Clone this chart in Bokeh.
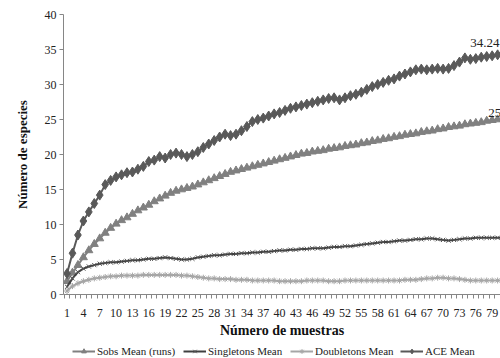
from bokeh.plotting import figure
from bokeh.layouts import column
from bokeh.models import FixedTicker, Legend, LegendItem, Range1d, Label
from bokeh.embed import file_html
from bokeh.resources import INLINE

samples = list(range(1, 82))
sobs = [1.9, 3.1, 4.2, 5.3, 6.3, 7.2, 8.0, 8.8, 9.5, 10.1,
        10.6, 11.0, 11.5, 12.0, 12.4, 12.8, 13.3, 13.7, 14.1, 14.5,
        14.8, 15.0, 15.2, 15.4, 15.7, 16.0, 16.3, 16.6, 16.9, 17.2,
        17.5, 17.7, 17.9, 18.1, 18.3, 18.5, 18.7, 18.9, 19.1, 19.3,
        19.5, 19.7, 19.9, 20.1, 20.2, 20.4, 20.5, 20.6, 20.8, 20.9,
        21.0, 21.2, 21.3, 21.4, 21.6, 21.7, 21.9, 22.0, 22.2, 22.3,
        22.5, 22.6, 22.8, 22.9, 23.0, 23.2, 23.3, 23.4, 23.6, 23.7,
        23.9, 24.0, 24.1, 24.3, 24.4, 24.5, 24.6, 24.8, 24.9, 25.0, 25.1]
singletons = [1.1, 2.3, 3.2, 3.7, 4.0, 4.2, 4.4, 4.5, 4.6, 4.6,
              4.7, 4.8, 4.9, 4.9, 5.0, 5.1, 5.1, 5.2, 5.3, 5.2,
              5.1, 5.0, 5.0, 5.1, 5.3, 5.4, 5.5, 5.6, 5.6, 5.7,
              5.8, 5.8, 5.9, 5.9, 6.0, 6.0, 6.1, 6.1, 6.2, 6.3,
              6.3, 6.4, 6.4, 6.5, 6.5, 6.6, 6.6, 6.6, 6.7, 6.8,
              6.8, 6.9, 6.9, 7.0, 7.1, 7.2, 7.3, 7.4, 7.5, 7.5,
              7.6, 7.7, 7.7, 7.8, 7.9, 7.9, 8.0, 8.0, 7.9, 7.8,
              7.7, 7.8, 7.9, 8.0, 8.0, 8.1, 8.1, 8.1, 8.1, 8.1, 8.1]
doubletons = [0.5, 1.2, 1.6, 1.9, 2.1, 2.3, 2.4, 2.5, 2.6, 2.6,
              2.7, 2.7, 2.7, 2.7, 2.8, 2.8, 2.8, 2.8, 2.8, 2.8,
              2.8, 2.7, 2.7, 2.6, 2.5, 2.4, 2.3, 2.3, 2.2, 2.2,
              2.2, 2.1, 2.1, 2.1, 2.0, 2.0, 2.0, 2.0, 2.0, 1.9,
              1.9, 1.9, 1.9, 1.9, 2.0, 2.0, 2.0, 2.0, 1.9, 1.9,
              1.9, 2.0, 2.0, 2.0, 2.0, 2.0, 2.0, 2.0, 2.0, 2.0,
              2.0, 2.0, 2.1, 2.1, 2.1, 2.2, 2.3, 2.3, 2.4, 2.4,
              2.3, 2.3, 2.2, 2.1, 2.0, 2.0, 2.0, 2.0, 2.0, 2.0, 2.0]
ace = [3.0, 5.9, 8.5, 10.5, 11.8, 13.0, 14.2, 15.7, 16.3, 16.8,
       17.1, 17.4, 17.5, 17.9, 18.3, 19.0, 19.2, 19.7, 19.5, 20.0,
       20.2, 20.0, 19.7, 20.0, 20.4, 21.0, 21.5, 22.0, 22.5, 22.9,
       22.7, 22.9, 23.4, 24.0, 24.7, 25.0, 25.2, 25.5, 25.8, 26.0,
       26.3, 26.6, 26.8, 27.0, 27.2, 27.4, 27.6, 27.8, 28.0, 28.1,
       27.8, 28.1, 28.4, 28.6, 28.9, 29.3, 29.7, 30.0, 30.3, 30.6,
       30.8, 31.2, 31.5, 31.8, 32.1, 32.2, 32.1, 32.2, 32.3, 32.2,
       32.3, 32.7, 33.2, 33.8, 33.6, 33.7, 33.9, 34.0, 34.1, 34.24, 34.5]
x_ticks = list(range(1, 80, 3))
y_ticks = list(range(0, 41, 5))
series_names = ["Sobs Mean (runs)", "Singletons Mean", "Doubletons Mean", "ACE Mean"]
label_texts = ["34.24", "25.07"]

FONT = "Liberation Serif"
AXIS_COLOR = "#868686"
c_sobs = "#808080"
c_single = "#404040"
c_double = "#a6a6a6"
c_ace = "#595959"

p = figure(width=500, height=340, output_backend="svg", toolbar_location=None,
           x_range=Range1d(0.35, 80.53), y_range=Range1d(0, 40),
           min_border_left=63, min_border_right=0, min_border_top=14,
           min_border_bottom=46)
p.outline_line_color = None
p.xgrid.visible = False
p.ygrid.visible = False

ya = p.yaxis[0]
ya.ticker = FixedTicker(ticks=y_ticks)
ya.axis_line_color = AXIS_COLOR
ya.major_tick_line_color = AXIS_COLOR
ya.major_tick_out = 4
ya.major_tick_in = 0
ya.minor_tick_line_color = None
ya.major_label_text_font = FONT
ya.major_label_text_font_size = "12px"
ya.major_label_text_color = "#222222"
ya.major_label_standoff = 3
ya.axis_label = "Número de especies"
ya.axis_label_text_font = FONT
ya.axis_label_text_font_style = "bold"
ya.axis_label_text_font_size = "13px"
ya.axis_label_text_color = "#111111"
ya.axis_label_standoff = 12

xa = p.xaxis[0]
xa.ticker = FixedTicker(ticks=x_ticks, minor_ticks=[i + 0.5 for i in range(0, 81)])
xa.axis_line_color = AXIS_COLOR
xa.major_tick_line_color = None
xa.major_tick_out = 0
xa.major_tick_in = 0
xa.minor_tick_line_color = AXIS_COLOR
xa.minor_tick_out = 4
xa.minor_tick_in = 0
xa.major_label_text_font = FONT
xa.major_label_text_font_size = "12px"
xa.major_label_text_color = "#222222"
xa.major_label_standoff = 10
xa.axis_label = "Número de muestras"
xa.axis_label_text_font = FONT
xa.axis_label_text_font_style = "bold"
xa.axis_label_text_font_size = "14px"
xa.axis_label_text_color = "#111111"
xa.axis_label_standoff = 3

def draw(fig, xs, ys):
    r = []
    r.append((fig.line(xs, ys[0], line_color=c_sobs, line_width=2),
              fig.scatter(xs, ys[0], marker="triangle", size=8, fill_color=c_sobs, line_color=c_sobs)))
    r.append((fig.line(xs, ys[1], line_color=c_single, line_width=2),
              fig.scatter(xs, ys[1], marker="x", size=6, line_color="#555555", line_width=1)))
    r.append((fig.line(xs, ys[2], line_color=c_double, line_width=2),
              fig.scatter(xs, ys[2], marker="asterisk", size=6, line_color=c_double, line_width=1)))
    r.append((fig.line(xs, ys[3], line_color=c_ace, line_width=2),
              fig.scatter(xs, ys[3], marker="diamond", size=10, fill_color=c_ace, line_color=c_ace)))
    return r

draw(p, samples, [sobs, singletons, doubletons, ace])

p.add_layout(Label(x=75.0, y=35.9, text=label_texts[0], text_font=FONT, text_font_size="13px",
                   text_align="left", text_baseline="middle", text_color="#222222"))
p.add_layout(Label(x=78.3, y=26.0, text=label_texts[1], text_font=FONT, text_font_size="13px",
                   text_align="left", text_baseline="middle", text_color="#222222"))

# legend strip (dummy renderers sit outside the visible range, only to style the keys);
# its frame is aligned with the chart frame, so offsets are measured from x = 63
q = figure(width=500, height=18, output_backend="svg", toolbar_location=None,
           x_range=Range1d(0, 1), y_range=Range1d(0, 1),
           x_axis_location=None, y_axis_location=None,
           min_border_left=0, min_border_right=0, min_border_top=0, min_border_bottom=0)
q.xgrid.visible = False
q.ygrid.visible = False
q.outline_line_color = None
rs = draw(q, [-10], [[-10], [-10], [-10], [-10]])
legend_x = [9, 120, 227, 337]
for i in range(4):
    lg = Legend(items=[LegendItem(label=series_names[i], renderers=list(rs[i]))],
                orientation="horizontal", location=(legend_x[i], 1))
    lg.label_text_font = FONT
    lg.label_text_font_size = "11px"
    lg.label_text_color = "#222222"
    lg.glyph_width = 23
    lg.glyph_height = 12
    lg.label_standoff = 2
    lg.padding = 0
    lg.margin = 0
    lg.border_line_color = None
    lg.background_fill_alpha = 0
    q.add_layout(lg)

layout = column(p, q, spacing=0)
open("out.html", "w").write(file_html(layout, INLINE))
